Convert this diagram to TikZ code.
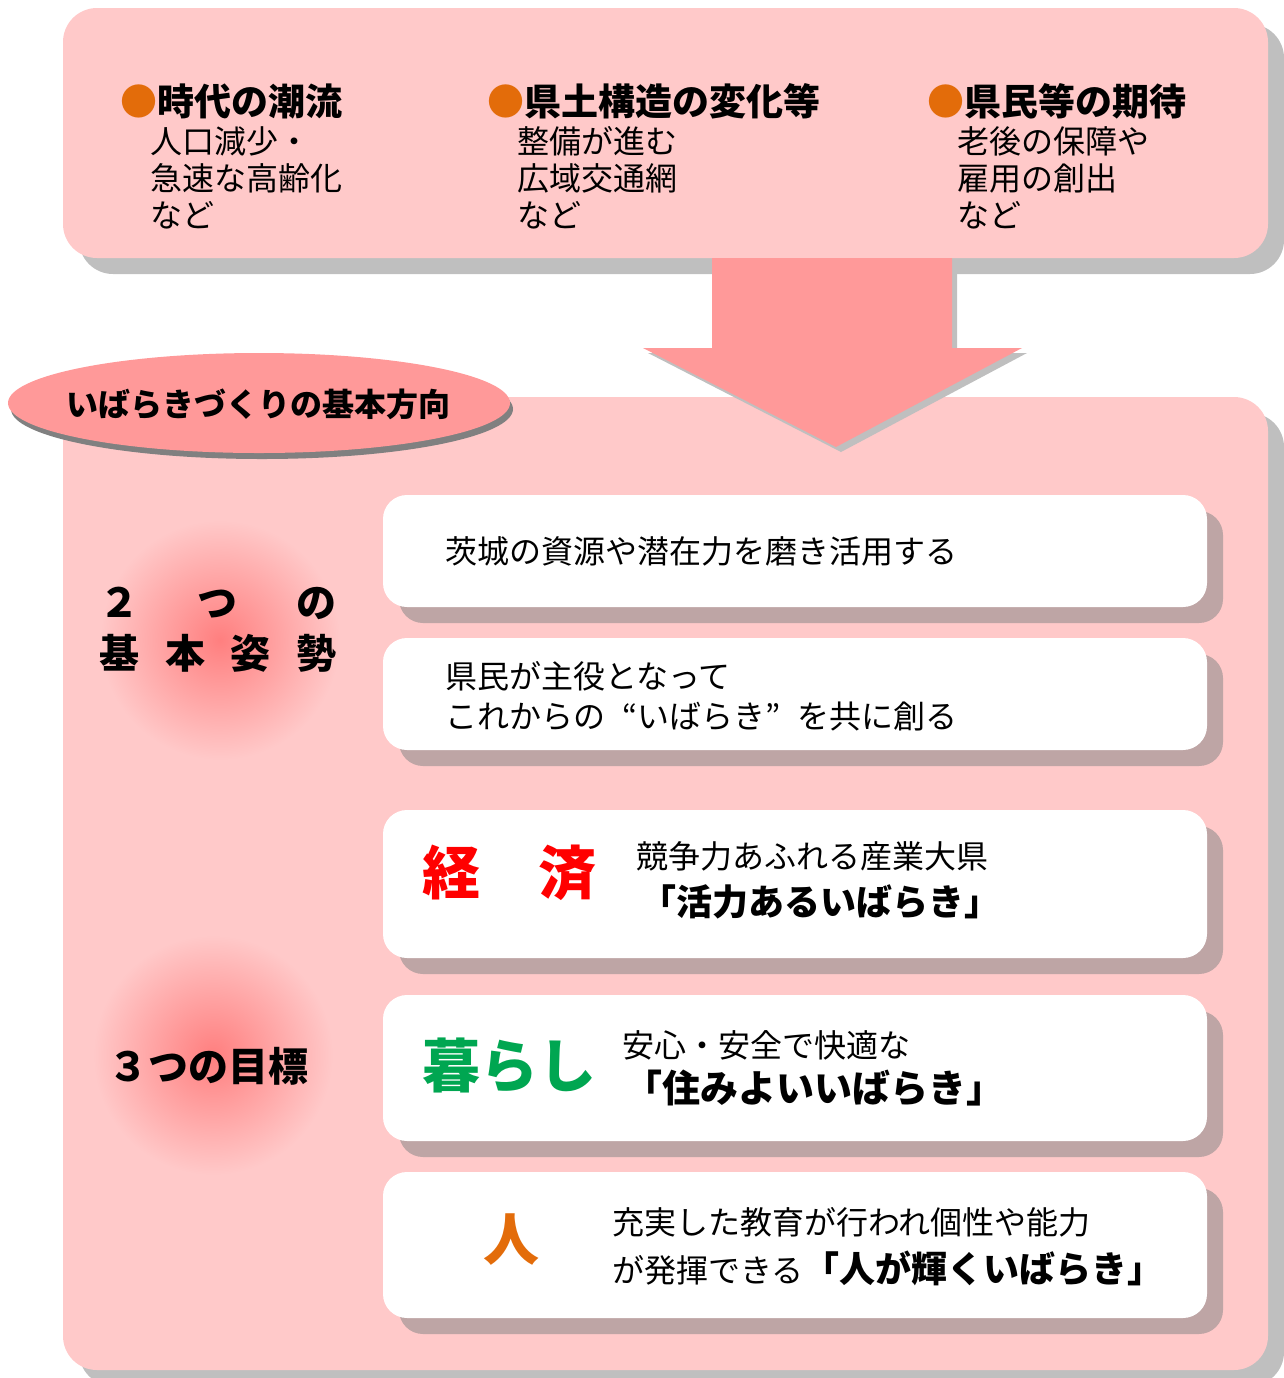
\documentclass[tikz,border=0pt]{standalone}
\usepackage{fontspec}
\setmainfont{Noto Sans CJK JP}
\usetikzlibrary{shapes.geometric,shadows}
\definecolor{pinkbg}{HTML}{FFC9C9}
\definecolor{arrowpink}{HTML}{FF9999}
\definecolor{shadowgray}{HTML}{BFBFBF}
\definecolor{ellshadow}{HTML}{808080}
\definecolor{boxshadow}{HTML}{BEA5A5}
\definecolor{bulletorange}{HTML}{E36C0A}
\definecolor{glowred}{HTML}{FF7F7F}
\definecolor{keizaired}{HTML}{FF0000}
\definecolor{kurashigreen}{HTML}{00A651}
\begin{document}
\begin{tikzpicture}[x=0.5pt,y=-0.5pt,
  panel/.style={fill=pinkbg, rounded corners=17pt, inner sep=0pt, minimum width=602.5pt,
    drop shadow={shadow xshift=8pt, shadow yshift=-8pt, fill=shadowgray, opacity=1}},
  whitebox/.style={fill=white, rounded corners=12pt, inner sep=0pt, minimum width=412pt,
    drop shadow={shadow xshift=8pt, shadow yshift=-8pt, fill=boxshadow, opacity=1}},
  ttl/.style={font=\fontsize{18.5}{22}\selectfont\bfseries, anchor=west, inner sep=0pt},
  sub/.style={font=\fontsize{16}{18.5}\selectfont, anchor=west, align=left, inner sep=0pt},
  body/.style={font=\fontsize{16}{20}\selectfont, anchor=west, align=left, inner sep=0pt},
  big/.style={font=\fontsize{29}{32}\selectfont\bfseries, anchor=west, inner sep=0pt},
  slogan/.style={font=\fontsize{18}{22}\selectfont\bfseries, anchor=west, inner sep=0pt},
  lbl/.style={font=\fontsize{20}{24}\selectfont\bfseries, inner sep=0pt}]
\useasboundingbox (0,0) rectangle (1284,1378);
\clip (0,0) rectangle (1284,1378);

% top panel
\node[panel, minimum height=125pt] (top) at (665.5,133) {};
% main panel
\node[panel, minimum height=486.5pt] (main) at (665.5,883.5) {};

% glows
\begin{scope}
  \clip[rounded corners=17pt] (63,397) rectangle (1268,1370);
  \shade[inner color=glowred, outer color=pinkbg] (220,640) circle (60pt);
  \shade[inner color=glowred, outer color=pinkbg] (213,1055) circle (60pt);
\end{scope}

% block arrow
\fill[shadowgray] (717,263) -- (957,263) -- (957,353) -- (1027,353) -- (841,452) -- (648,353) -- (717,353) -- cycle;
\fill[arrowpink] (712,258) -- (952,258) -- (952,348) -- (1022,348) -- (836,447) -- (643,348) -- (712,348) -- cycle;

% ellipse title
\fill[ellshadow] (262,409) ellipse (125.5pt and 25pt);
\fill[arrowpink] (259,403) ellipse (125.5pt and 25pt);
\node[inner sep=0pt, font=\fontsize{16}{16}\selectfont\bfseries] (ell) at (259,404) {いばらきづくりの基本方向};

% top texts
\node[ttl] (t1) at (120,101) {\textcolor{bulletorange}{●}時代の潮流};
\node[sub] (s1) at (150,178) {人口減少・\\急速な高齢化\\など};
\node[ttl] (t2) at (487,101) {\textcolor{bulletorange}{●}県土構造の変化等};
\node[sub] (s2) at (517,178) {整備が進む\\広域交通網\\など};
\node[ttl] (t3) at (927,101) {\textcolor{bulletorange}{●}県民等の期待};
\node[sub] (s3) at (957,178) {老後の保障や\\雇用の創出\\など};

% left labels
\node[lbl] (two1) at (218,603) {\hbox to 118.5pt{２\hfil つ\hfil の}};
\node[lbl] (two2) at (218,653) {\hbox to 118.5pt{基\hfil 本\hfil 姿\hfil 勢}};
\node[lbl] (three) at (208,1066) {３つの目標};

% white boxes
\node[whitebox, minimum height=56pt] (b1) at (795,551) {};
\node[whitebox, minimum height=56pt] (b2) at (795,694) {};
\node[whitebox, minimum height=74pt] (b3) at (795,884) {};
\node[whitebox, minimum height=73pt] (b4) at (795,1068) {};
\node[whitebox, minimum height=73pt] (b5) at (795,1245) {};

\node[body] (b1t) at (445,551) {茨城の資源や潜在力を磨き活用する};
\node[body] (b2t) at (445,696) {県民が主役となって\\これからの\makebox[1em][r]{“}いばらき\makebox[1em][l]{”}を共に創る};

\node[big, text=keizaired] (keizai) at (422,873) {経　済};
\node[body] (b3a) at (636,856) {競争力あふれる産業大県};
\node[slogan] (b3b) at (640,902) {「活力あるいばらき」};

\node[big, text=kurashigreen] (kurashi) at (422,1066) {暮らし};
\node[body] (b4a) at (622,1045) {安心・安全で快適な};
\node[slogan, font=\fontsize{19}{22}\selectfont\bfseries] (b4b) at (624,1088) {「住みよいいばらき」};

\node[font=\fontsize{28}{30}\selectfont\bfseries, text=bulletorange, inner sep=0pt] (hito) at (511,1240) {人};
\node[body] (b5a) at (612,1222) {充実した教育が行われ個性や能力};
\node[body] (b5b) at (612,1268) {が発揮できる{\fontsize{18}{22}\selectfont\bfseries「人が輝くいばらき」}};
\end{tikzpicture}
\end{document}
